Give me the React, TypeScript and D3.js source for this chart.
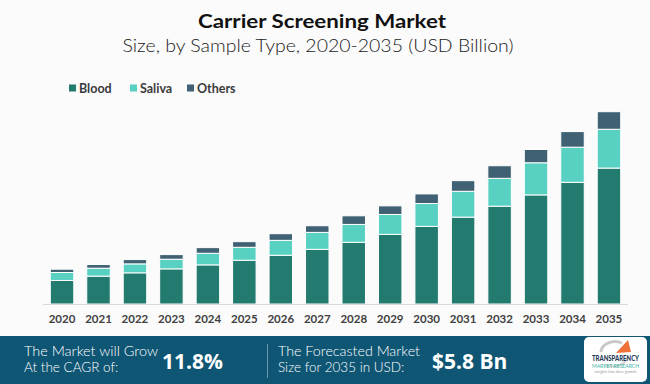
import React from 'react';
import * as d3 from 'd3';

const years = ['2020', '2021', '2022', '2023', '2024', '2025', '2026', '2027', '2028', '2029', '2030', '2031', '2032', '2033', '2034', '2035'];
const blood = [0.71, 0.84, 0.94, 1.06, 1.18, 1.32, 1.47, 1.65, 1.86, 2.10, 2.34, 2.62, 2.95, 3.29, 3.67, 4.10];
const saliva = [0.24, 0.24, 0.27, 0.29, 0.35, 0.39, 0.45, 0.51, 0.54, 0.60, 0.69, 0.78, 0.84, 0.97, 1.06, 1.17];
const others = [0.10, 0.11, 0.13, 0.14, 0.17, 0.17, 0.20, 0.20, 0.26, 0.26, 0.29, 0.32, 0.38, 0.40, 0.47, 0.53];
const seriesNames = ['Blood', 'Saliva', 'Others'];
const colors = ['#237a6e', '#58d0c2', '#3f6173'];

const W = 650;
const H = 384;
const labelFont = "Lato, 'Open Sans', sans-serif";

type Row = { year: string; Blood: number; Saliva: number; Others: number };

const App: React.FC = () => {
  const rows: Row[] = years.map((y, i) => ({ year: y, Blood: blood[i], Saliva: saliva[i], Others: others[i] }));
  const stacked = d3.stack<Row>().keys(seriesNames)(rows);

  const x = d3.scaleBand<string>().domain(years).range([43, 628]).paddingInner(0.356).paddingOuter(0.2);
  const y = d3.scaleLinear().domain([0, 5.8]).range([304, 111.7]);

  // legend positions
  const legendX = [69, 130, 187];

  return (
    <div style={{ position: 'fixed', left: 0, top: 0, width: W, height: H }}>
      <svg width={W} height={H} style={{ display: 'block' }}>
        <rect x={0} y={0} width={W} height={H} fill="#fbfbfc" />

        <text x={322} y={28} textAnchor="middle" fontFamily={labelFont} fontWeight={700} fontSize={19} fill="#111" textLength={248} lengthAdjust="spacingAndGlyphs">
          Carrier Screening Market
        </text>
        <text x={318} y={52} textAnchor="middle" fontFamily={labelFont} fontWeight={300} fontSize={17.5} fill="#1a1a1a" textLength={391} lengthAdjust="spacingAndGlyphs">
          Size, by Sample Type, 2020-2035 (USD Billion)
        </text>

        {seriesNames.map((name, i) => (
          <g key={name}>
            <rect x={legendX[i]} y={84.5} width={7} height={7} fill={colors[i]} />
            <text x={legendX[i] + 10} y={92.5} fontFamily={labelFont} fontWeight={700} fontSize={12.5} fill="#3a3a3a">
              {name}
            </text>
          </g>
        ))}

        {stacked.map((s, si) => (
          <g key={s.key} fill={colors[si]}>
            {s.map((d) => (
              <rect
                key={d.data.year}
                x={x(d.data.year)}
                y={y(d[1])}
                width={x.bandwidth()}
                height={y(d[0]) - y(d[1])}
                stroke="#ffffff"
                strokeWidth={1}
              />
            ))}
          </g>
        ))}

        <line x1={43} x2={628} y1={304.5} y2={304.5} stroke="#d9d9d9" strokeWidth={1} />

        {years.map((yr) => (
          <text key={yr} x={(x(yr) ?? 0) + x.bandwidth() / 2} y={323} textAnchor="middle" fontFamily={labelFont} fontWeight={700} fontSize={11.5} fill="#404040">
            {yr}
          </text>
        ))}

        {/* bottom banner */}
        <rect x={0} y={336} width={W} height={48} fill="#0f5674" />
        <text x={24} y={356} fontFamily={labelFont} fontWeight={300} fontSize={13.5} fill="#ffffff" textLength={134} lengthAdjust="spacingAndGlyphs">The Market will Grow</text>
        <text x={24} y={372} fontFamily={labelFont} fontWeight={300} fontSize={13.5} fill="#ffffff">At the CAGR of:</text>
        <text x={162} y={369} fontFamily="'Open Sans', sans-serif" fontWeight={700} fontSize={21} fill="#ffffff">11.8%</text>
        <line x1={267.5} x2={267.5} y1={344} y2={378} stroke="#6f97aa" strokeWidth={1} />
        <text x={278} y={356} fontFamily={labelFont} fontWeight={300} fontSize={13.5} fill="#ffffff" textLength={142} lengthAdjust="spacingAndGlyphs">The Forecasted Market</text>
        <text x={278} y={372} fontFamily={labelFont} fontWeight={300} fontSize={13.5} fill="#ffffff">Size for 2035 in USD:</text>
        <text x={432} y={369} fontFamily="'Open Sans', sans-serif" fontWeight={700} fontSize={21} fill="#ffffff">$5.8 Bn</text>

        {/* logo */}
        <rect x={584} y={337} width={63} height={45} rx={5} fill="#ffffff" />
        <path d="M 601 352 A 14 11 0 0 1 622 343" fill="none" stroke="#c9c9c9" strokeWidth={3} />
        <path d="M 606 365 A 14 11 0 0 0 627 357" fill="none" stroke="#d5d5d5" strokeWidth={2.5} />
        <path d="M 616 353 L 628 340 L 631 352 Z" fill="#f0703a" />
        <text x={615.5} y={361} textAnchor="middle" fontFamily={labelFont} fontWeight={900} fontSize={7} fill="#1f3b57" textLength={47} lengthAdjust="spacingAndGlyphs">TRANSPARENCY</text>
        <text x={615.5} y={368} textAnchor="middle" fontFamily={labelFont} fontSize={6} fill="#3bb3a6" textLength={47} lengthAdjust="spacingAndGlyphs">MARKET RESEARCH</text>
        <text x={615.5} y={373} textAnchor="middle" fontFamily={labelFont} fontSize={3} fill="#999" textLength={42} lengthAdjust="spacingAndGlyphs">Insights that drive growth</text>
      </svg>
    </div>
  );
};

export default App;
